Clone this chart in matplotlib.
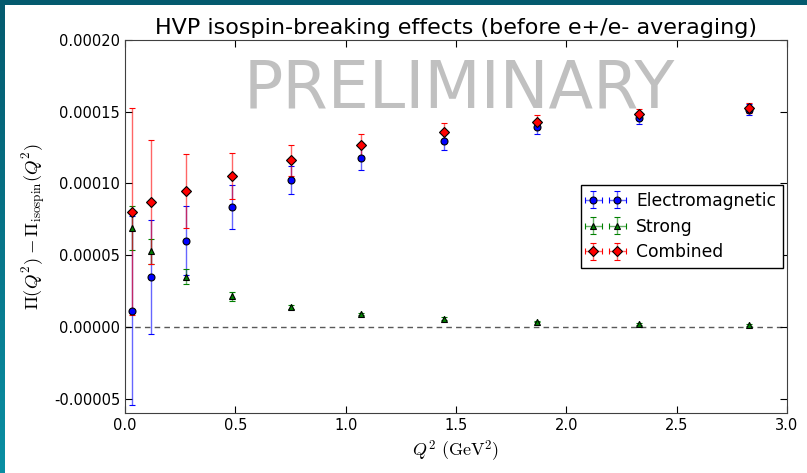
import numpy as np
import matplotlib
matplotlib.use('Agg')
import matplotlib.pyplot as plt
from matplotlib.ticker import FormatStrFormatter, MultipleLocator
from matplotlib.patches import Rectangle

plt.rcParams['mathtext.fontset'] = 'cm'

q2 = [0.03, 0.12, 0.275, 0.485, 0.75, 1.07, 1.445, 1.865, 2.33, 2.83]

em = [1.13e-5, 3.47e-5, 6.02e-5, 8.36e-5, 1.025e-4, 1.176e-4, 1.296e-4, 1.391e-4, 1.456e-4, 1.514e-4]
em_err = [6.6e-5, 3.98e-5, 2.4e-5, 1.5e-5, 1.0e-5, 0.79e-5, 0.6e-5, 0.48e-5, 0.4e-5, 0.4e-5]

strong = [6.88e-5, 5.26e-5, 3.5e-5, 2.13e-5, 1.37e-5, 0.9e-5, 0.58e-5, 0.37e-5, 0.21e-5, 0.14e-5]
strong_err = [1.55e-5, 0.9e-5, 0.52e-5, 0.32e-5, 0.15e-5, 0.1e-5, 0.08e-5, 0.06e-5, 0.05e-5, 0.05e-5]

comb = [8.03e-5, 8.73e-5, 9.47e-5, 1.051e-4, 1.162e-4, 1.266e-4, 1.359e-4, 1.428e-4, 1.481e-4, 1.523e-4]
comb_err = [7.2e-5, 4.33e-5, 2.6e-5, 1.6e-5, 1.07e-5, 0.8e-5, 0.6e-5, 0.49e-5, 0.4e-5, 0.35e-5]

fig = plt.figure(figsize=(8.07, 4.73), dpi=100)

# teal frame strips on the left and top
strip = fig.add_axes([0, 0, 5 / 807, 1])
grad = np.linspace(0, 1, 256).reshape(-1, 1)
cmap = matplotlib.colors.LinearSegmentedColormap.from_list('t', ['#045a6e', '#0a8fa3'])
strip.imshow(grad, aspect='auto', cmap=cmap, extent=[0, 1, 0, 1], origin='upper')
strip.axis('off')
fig.patches.append(Rectangle((0, 1 - 5 / 473), 1, 5 / 473, transform=fig.transFigure,
                             facecolor='#045a6e', edgecolor='none', zorder=0))

ax = fig.add_axes([125 / 807, 60 / 473, 662 / 807, 373 / 473])

xerr = np.zeros(len(q2))
series = [(em, em_err, 'b', 'o', 'Electromagnetic'),
          (strong, strong_err, 'g', '^', 'Strong'),
          (comb, comb_err, 'r', 'D', 'Combined')]
for y, e, c, m, lab in series:
    cont = ax.errorbar(q2, y, yerr=e, xerr=xerr, fmt=m, color=c, mfc=c, mec='k',
                       ms=5, mew=0.8, capsize=2.3, elinewidth=1, capthick=1, label=lab)
    for b in cont[2]:
        b.set_alpha(0.6)

ax.axhline(0, color='0.35', ls='--', lw=1, dashes=(4, 3), zorder=0)

ax.text(0.505, 0.8185, 'PRELIMINARY', transform=ax.transAxes, ha='center', va='baseline',
        fontsize=47, color='#c0c0c0', zorder=0)

ax.set_xlim(0, 3)
ax.set_ylim(-0.00006, 0.0002)
ax.xaxis.set_major_locator(MultipleLocator(0.5))
ax.yaxis.set_major_locator(MultipleLocator(0.00005))
ax.xaxis.set_major_formatter(FormatStrFormatter('%.1f'))
ax.yaxis.set_major_formatter(FormatStrFormatter('%.5f'))
ax.tick_params(direction='in', top=True, right=True, length=5, labelsize=10.5)
for s in ax.spines.values():
    s.set_color('0.25')

ax.set_title('HVP isospin-breaking effects (before e+/e- averaging)', fontsize=16, pad=4)
ax.set_xlabel(r'$Q^2\ (\mathrm{GeV}^2)$', fontsize=13)
ax.set_ylabel(r'$\Pi(Q^2) - \Pi_{\rm isospin}(Q^2)$', fontsize=13.4)

leg = ax.legend(loc='center right', numpoints=2, fontsize=12.3, fancybox=False,
                framealpha=1, edgecolor='k', handlelength=2.0, handletextpad=0.8,
                labelspacing=0.45, borderaxespad=0.25)
leg.get_frame().set_linewidth(1)

fig.savefig('out.png', dpi=100)
